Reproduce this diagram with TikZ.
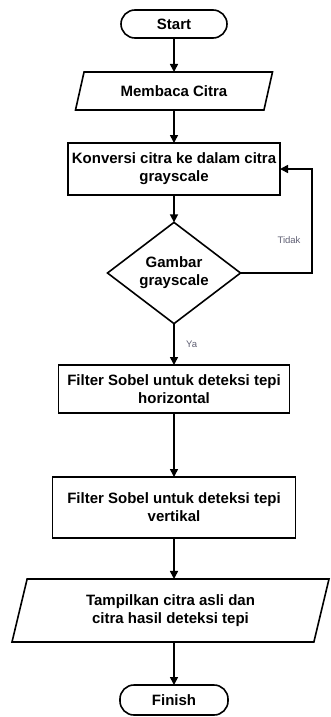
\documentclass[tikz,border=0pt]{standalone}
\usepackage{fontspec}
\setmainfont{Liberation Sans}
\usepackage{tikz}
\usetikzlibrary{shapes.geometric}
\usetikzlibrary{arrows.meta}
\definecolor{labelgray}{RGB}{95,95,115}

\tikzset{
  base/.style={draw, line width=1.6pt, align=center, inner sep=1pt, outer sep=0pt,
    font=\bfseries\fontsize{15}{18}\selectfont},
  terminal/.style={base, rectangle, rounded corners=14pt},
  process/.style={base, rectangle},
  io/.style={base, trapezium, trapezium stretches body},
  decision/.style={base, diamond, inner sep=0pt},
  flow/.style={line width=1.6pt, -{Triangle[length=8pt,width=8pt]}},
  branch/.style={font=\fontsize{9.5}{11}\selectfont, text=labelgray}
}

\begin{document}
\begin{tikzpicture}[x=1pt,y=-1pt]
        \useasboundingbox (0,0) rectangle (330,717);

        \node[terminal, minimum width=106, minimum height=28] (start) at (174,24) {Start};
        \node[io, trapezium left angle=56.7, trapezium right angle=123.3,
              minimum width=197, minimum height=38] (baca) at (174,91) {Membaca Citra};
        \node[process, minimum width=212, minimum height=52] (konv) at (174,169)
              {Konversi citra ke dalam citra\\grayscale};
        \node[decision, minimum width=133, minimum height=95] (cek) at (174,273)
              {Gambar\\grayscale};
        \node[process, minimum width=231, minimum height=48] (sobelh) at (174,389)
              {Filter Sobel untuk deteksi tepi\\horizontal};
        \node[process, minimum width=243, minimum height=61] (sobelv) at (174,507.5)
              {Filter Sobel untuk deteksi tepi\\vertikal};
        \node[io, trapezium left angle=66, trapezium right angle=114,
              minimum width=317, minimum height=63] (tampil) at (170.5,610.5)
              {Tampilkan citra asli dan\\citra hasil deteksi tepi};
        \node[terminal, minimum width=108, minimum height=30] (finish) at (174,700) {Finish};

        \coordinate (balik) at (312,273);

        \draw[flow] (start) -- (baca);
        \draw[flow] (baca) -- (konv);
        \draw[flow] (konv) -- (cek);
        \draw[flow] (cek) -- node[branch, right=8pt] {Ya} (sobelh);
        \draw[flow] (sobelh) -- (sobelv);
        \draw[flow] (sobelv.south) -- (sobelv.south |- tampil.north);
        \draw[flow] (tampil.south -| finish.north) -- (finish);
        \draw[flow] (cek.east) -- (balik) |- (konv.east);

        \node[branch] (tidak) at (289,240) {Tidak};
      \end{tikzpicture}
\end{document}
